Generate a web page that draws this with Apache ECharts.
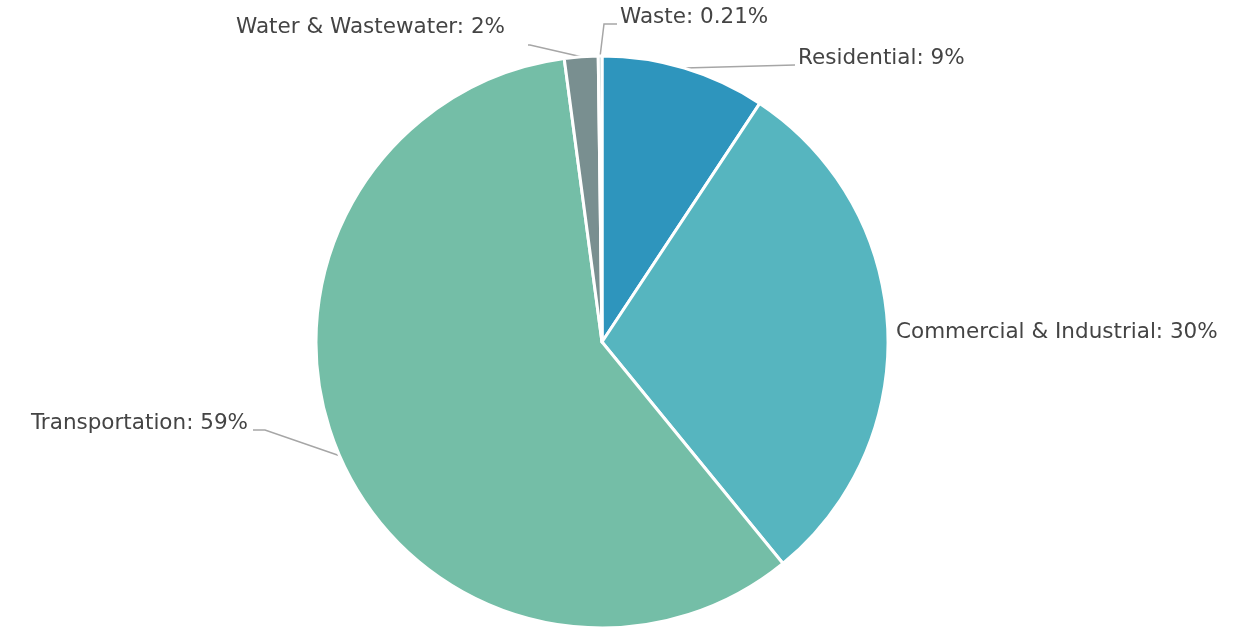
<!DOCTYPE html>
<html>
<head>
<meta charset="utf-8">
<script src="https://cdn.jsdelivr.net/npm/echarts@6/dist/echarts.min.js"></script>
<style>
  html, body { margin: 0; padding: 0; background: #fff; }
  #pie-chart { width: 1258px; height: 627px; }
</style>
</head>
<body>
<div id="pie-chart"></div>
<script>
// sectors, clockwise from 12 o'clock
const categories = ['Residential', 'Commercial & Industrial', 'Transportation', 'Water & Wastewater', 'Waste']
const shares = [9.3, 29.8, 58.8, 1.9, 0.21]
const shareLabels = ['9%', '30%', '59%', '2%', '0.21%']
const colors = ['#2e95bd', '#56b5bf', '#74bea7', '#798f90', '#b9cfcf']

// where each label sits (layout only)
const labelSpots = [
  {x: 798, y: 58, align: 'left', line: 'straight'},
  {x: 896, y: 332, align: 'left', line: 'none'},
  {x: 248, y: 423, align: 'right', line: 'elbow'},
  {x: 505, y: 27, align: 'right', line: 'short'},
  {x: 620, y: 17, align: 'left', line: 'up'}
]

const chart = echarts.init(document.getElementById('pie-chart'))

chart.setOption({
  animation: false,
  textStyle: {fontFamily: 'DejaVu Sans'},
  series: [
    {
      type: 'pie',
      center: [602, 342],
      radius: [0, 286],
      startAngle: 90,
      clockwise: true,
      data: categories.map(function (name, i) {
        return {name: name, value: shares[i], itemStyle: {color: colors[i]}}
      }),
      itemStyle: {borderColor: '#fff', borderWidth: 3},
      label: {
        show: true,
        position: 'outside',
        color: '#444',
        fontSize: 21.5,
        fontWeight: 'normal',
        overflow: 'none',
        formatter: function (p) {
          return p.name + ': ' + shareLabels[p.dataIndex]
        }
      },
      labelLine: {
        show: true,
        lineStyle: {color: '#a6a6a6', width: 1.5}
      },
      labelLayout: function (params) {
        const s = labelSpots[params.dataIndex]
        const p0 = params.labelLinePoints ? params.labelLinePoints[0] : [0, 0]
        let pts
        if (s.line === 'straight') {
          pts = [p0, [s.x - 3, s.y + 7], [s.x - 3, s.y + 7]]
        } else if (s.line === 'elbow') {
          pts = [p0, [s.x + 17, s.y + 7], [s.x + 5, s.y + 7]]
        } else if (s.line === 'short') {
          pts = [p0, [s.x + 25, s.y + 18], [s.x + 23, s.y + 18]]
        } else if (s.line === 'up') {
          pts = [p0, [s.x - 16, s.y + 7], [s.x - 3, s.y + 7]]
        } else {
          pts = [p0, p0, p0]
        }
        return {
          x: s.x,
          y: s.y,
          align: s.align,
          verticalAlign: 'middle',
          labelLinePoints: pts
        }
      }
    }
  ]
})
</script>
</body>
</html>
